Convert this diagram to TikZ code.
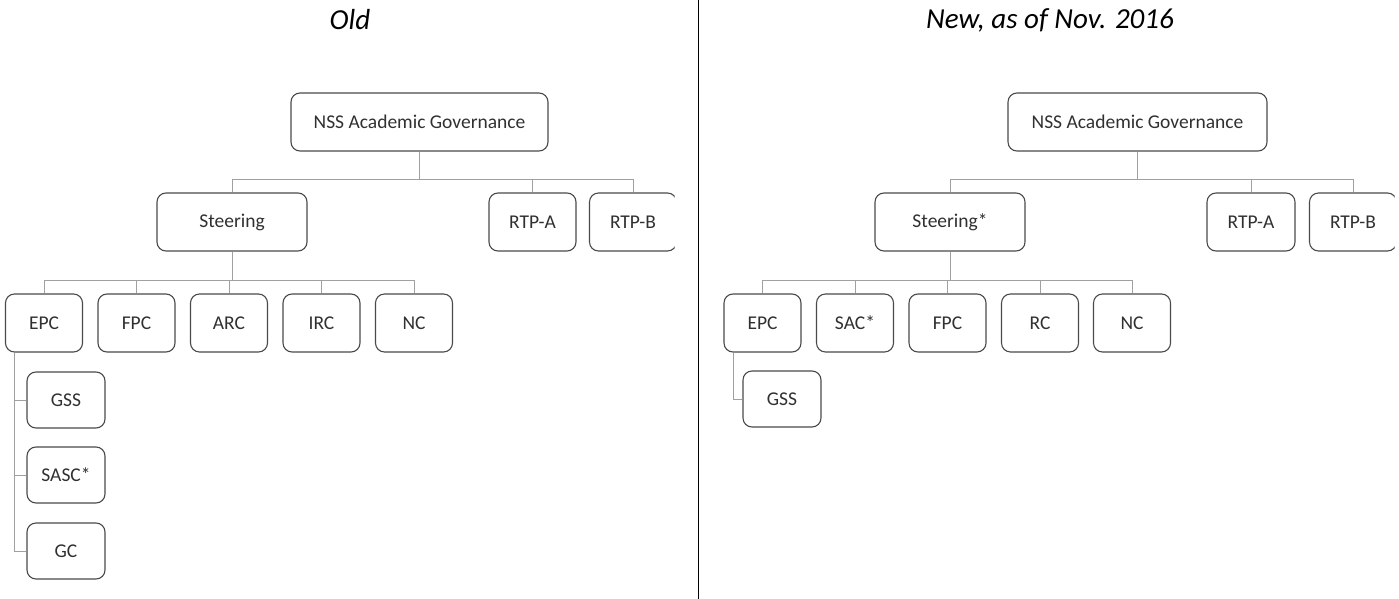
\documentclass[tikz,border=0pt]{standalone}
\usepackage{fontspec}
\setmainfont{Carlito}
\usepackage{xcolor}
\usetikzlibrary{positioning,calc}
\definecolor{boxline}{HTML}{4A4A4A}
\definecolor{linkgray}{HTML}{A0A0A0}
\definecolor{boxtext}{HTML}{303030}

\begin{document}
\begin{tikzpicture}[
    x=1pt, y=-1pt,
    orgbox/.style={rectangle, rounded corners=9pt, draw=boxline, line width=1.1pt,
        text=boxtext, inner sep=0pt, minimum height=58pt, font=\fontsize{19.5}{22}\selectfont},
    smallbox/.style={orgbox, minimum width=77pt},
    subbox/.style={orgbox, minimum width=78pt, minimum height=56pt},
    link/.style={draw=linkgray, line width=1pt},
    heading/.style={font=\itshape\fontsize{29}{34}\selectfont}
]
    \useasboundingbox (0,0) rectangle (1399,599);

    % Divider
    \draw[line width=0.8pt] (698,0) coordinate (divtop) -- (698,599) coordinate (divbot);

    % Old
    \node[heading] (oldtitle) at (350,20) {Old};
    \node[orgbox, minimum width=257pt] (ogov) at (419.5,122) {NSS Academic Governance};
    \node[orgbox, minimum width=150pt] (osteer) at (232,222) {Steering};
    \node[orgbox, minimum width=87pt] (ortpa) at (532.5,222) {RTP-A};
    \begin{scope}
        \clip (560,150) rectangle (674.5,270);
        \node[orgbox, minimum width=87pt] (ortpb) at (633,222) {RTP-B};
    \end{scope}
    \node[smallbox] (oepc) at (44,323) {EPC};
    \node[smallbox] (ofpc) at (136.5,323) {FPC};
    \node[smallbox] (oarc) at (229,323) {ARC};
    \node[smallbox] (oirc) at (321.5,323) {IRC};
    \node[smallbox] (onc) at (414,323) {NC};
    \node[subbox] (ogss) at (66,400) {GSS};
    \node[subbox] (osasc) at (66,475) {SASC*};
    \node[subbox] (ogc) at (66,551) {GC};

    \draw[link] (ogov.south) -- ++(0,28) coordinate (ojtop);
    \draw[link] (osteer.north) |- (ojtop) -| (ortpb.north);
    \draw[link] (ortpa.north) -- (ortpa.north |- ojtop);
    \draw[link] (osteer.south) -- ++(0,29) coordinate (ojmid);
    \draw[link] (oepc.north) |- (ojmid) -| (onc.north);
    \draw[link] (ofpc.north) -- (ofpc.north |- ojmid);
    \draw[link] (oarc.north) -- (oarc.north |- ojmid);
    \draw[link] (oirc.north) -- (oirc.north |- ojmid);
    \draw[link] ($(oepc.south west)+(10,0)$) coordinate (oepcleg) |- (ogc.west);
    \draw[link] (ogss.west) -- (ogss.west -| oepcleg);
    \draw[link] (osasc.west) -- (osasc.west -| oepcleg);

    % New
    \node[heading] (newtitle) at (1050,20) {New, as of Nov. 2016};
    \node[orgbox, minimum width=259pt] (ngov) at (1137.5,122) {NSS Academic Governance};
    \node[orgbox, minimum width=150pt] (nsteer) at (950,222) {Steering*};
    \node[orgbox, minimum width=88pt] (nrtpa) at (1251,222) {RTP-A};
    \begin{scope}
        \clip (1280,150) rectangle (1394.5,270);
        \node[orgbox, minimum width=87pt] (nrtpb) at (1353,222) {RTP-B};
    \end{scope}
    \node[smallbox] (nepc) at (762.5,323) {EPC};
    \node[smallbox] (nsac) at (855,323) {SAC*};
    \node[smallbox] (nfpc) at (947.5,323) {FPC};
    \node[smallbox] (nrc) at (1040,323) {RC};
    \node[smallbox] (nnc) at (1132,323) {NC};
    \node[subbox] (ngss) at (782,399) {GSS};

    \draw[link] (ngov.south) -- ++(0,28) coordinate (njtop);
    \draw[link] (nsteer.north) |- (njtop) -| (nrtpb.north);
    \draw[link] (nrtpa.north) -- (nrtpa.north |- njtop);
    \draw[link] (nsteer.south) -- ++(0,29) coordinate (njmid);
    \draw[link] (nepc.north) |- (njmid) -| (nnc.north);
    \draw[link] (nsac.north) -- (nsac.north |- njmid);
    \draw[link] (nfpc.north) -- (nfpc.north |- njmid);
    \draw[link] (nrc.north) -- (nrc.north |- njmid);
    \draw[link] ($(nepc.south west)+(10,0)$) |- (ngss.west);
\end{tikzpicture}
\end{document}
